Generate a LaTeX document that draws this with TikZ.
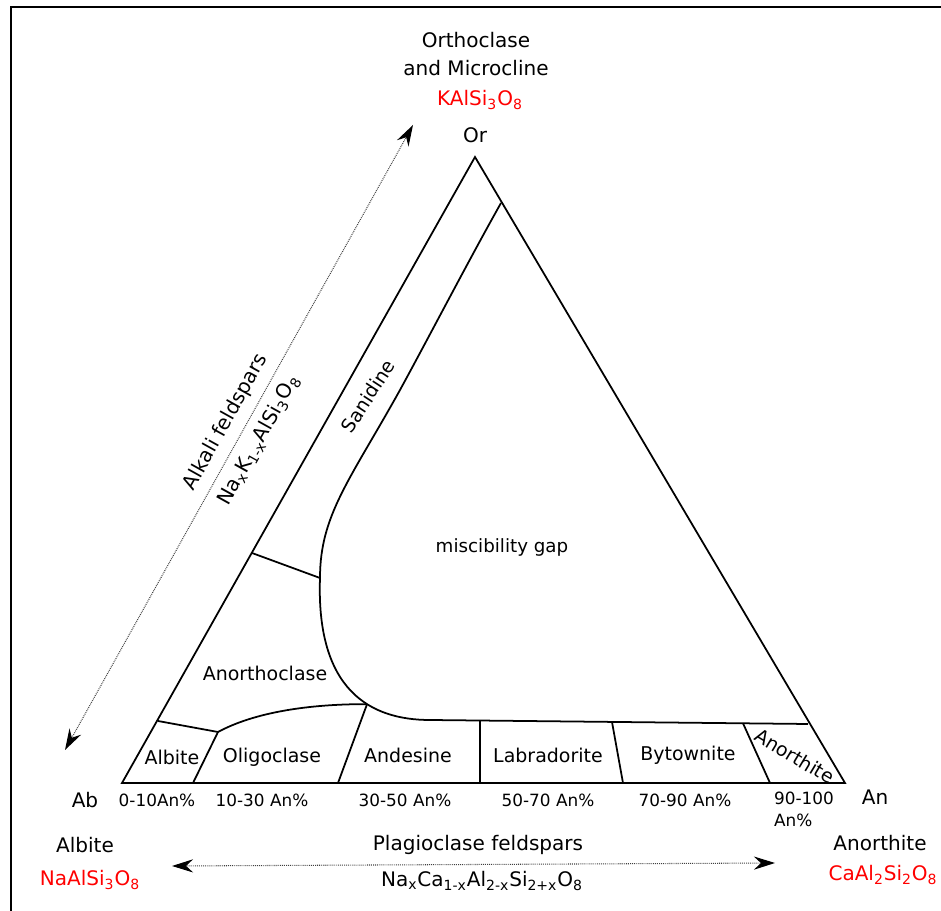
\documentclass[tikz,border=0pt]{standalone}
\usepackage{fontspec}
\setmainfont{DejaVu Sans}
\usetikzlibrary{arrows.meta}
\newcommand{\sub}[1]{\textsubscript{#1}}
\begin{document}
\begin{tikzpicture}[x=0.02cm,y=-0.02cm,
  txt/.style={font=\fontsize{11.4}{15.9}\selectfont,inner sep=0pt,text=black},
  fld/.style={font=\fontsize{10.8}{13}\selectfont,inner sep=0pt},
  rng/.style={font=\fontsize{9.6}{12.5}\selectfont,inner sep=0pt},
  chem/.style={txt,text=red},
  bnd/.style={line width=1pt},
  span/.style={black!75,line width=0.6pt,dash pattern=on 0.5pt off 0.6pt,
    {Stealth[length=12pt,width=7.5pt,inset=4pt,black]}-{Stealth[length=12pt,width=7.5pt,inset=4pt,black]}}]
\useasboundingbox (0,0) rectangle (941,911);
\draw[line width=1.1pt] (11,911) -- (11,7) -- (941,7);
% end members
\coordinate (Or) at (475,157); \coordinate (Ab) at (122,783); \coordinate (An) at (845,783);
\node[txt,align=center] (ortho) at (476,54) {Orthoclase\\and Microcline};
\node[chem] (orf) at (480,100) {KAlSi\sub{3}O\sub{8}};
\node[txt] (orl) at (475,135) {Or};
\node[txt] (abl) at (85,800) {Ab};
\node[txt] (anl) at (875,797) {An};
\node[txt] (abname) at (85,845) {Albite};
\node[chem] (abf) at (90,880) {NaAlSi\sub{3}O\sub{8}};
\node[txt] (anname) at (880,843) {Anorthite};
\node[chem] (anf) at (883,875) {CaAl\sub{2}Si\sub{2}O\sub{8}};
% series arrows
\coordinate (ka) at (65,750); \coordinate (kb) at (413,125);
\draw[span] (ka) -- (kb) node[txt,pos=0.51,sloped,above=5pt] (alk) {Alkali feldspars}
  node[txt,pos=0.51,sloped,below=5pt] (alkf) {Na\sub{x}K\sub{1-x}AlSi\sub{3}O\sub{8}};
\coordinate (pa) at (172,866); \coordinate (pb) at (775,863);
\draw[span] (pa) -- (pb);
\node[txt] (plag) at (478,845) {Plagioclase feldspars};
\node[txt] (plagf) at (482,881) {Na\sub{x}Ca\sub{1-x}Al\sub{2-x}Si\sub{2+x}O\sub{8}};
% triangle and field boundaries
\coordinate (s1) at (501,203); \coordinate (s2) at (320,578); \coordinate (s3) at (430,720);
\coordinate (g1) at (808,724); \coordinate (k1) at (252,553);
\coordinate (p1) at (158,721); \coordinate (p2) at (218,732);
\coordinate (t3) at (480,720.5); \coordinate (t4) at (612,722); \coordinate (t5) at (743,723.3);
\coordinate (b1) at (193,783); \coordinate (b2) at (338,783); \coordinate (b3) at (480,783);
\coordinate (b4) at (623,783); \coordinate (b5) at (770,783);
\draw[bnd] (Ab) -- (Or) -- (An) -- cycle;
\draw[bnd] (s1) .. controls (470,258) and (430,335) .. (400,390)
  .. controls (350,480) and (320,515) .. (s2)
  .. controls (316,690) and (370,720) .. (s3) coordinate[pos=0.62] (j) -- (g1);
\draw[bnd] (k1) -- (s2);
\draw[bnd] (p1) -- (p2) .. controls (255,712) and (310,704) .. (j);
\foreach \a/\b in {p2/b1,j/b2,t3/b3,t4/b4,t5/b5} \draw[bnd] (\a) -- (\b);
% fields
\node[fld,rotate=57] (san) at (368,396) {Sanidine};
\node[fld,font=\fontsize{10.4}{12.5}\selectfont] (gap) at (502,547) {miscibility gap};
\node[fld] (anc) at (265,673) {Anorthoclase};
\node[fld] (alb) at (172,757) {Albite};
\node[fld] (oli) at (272,757) {Oligoclase};
\node[fld] (ands) at (408,755) {Andesine};
\node[fld] (lab) at (548,755) {Labradorite};
\node[fld] (byt) at (688,755) {Bytownite};
\node[fld,rotate=-31] (ano) at (795,756) {Anorthite};
% composition ranges
\node[rng] (r1) at (157,800) {0-10An\%};
\node[rng] (r2) at (262,800) {10-30 An\%};
\node[rng] (r3) at (405,800) {30-50 An\%};
\node[rng] (r4) at (548,800) {50-70 An\%};
\node[rng] (r5) at (685,800) {70-90 An\%};
\node[rng,align=left] (r6) at (804,809) {90-100\\An\%};
\end{tikzpicture}
\end{document}
